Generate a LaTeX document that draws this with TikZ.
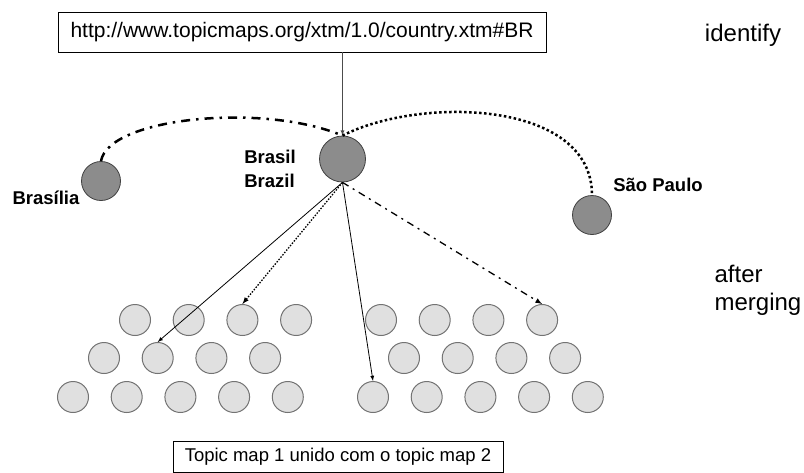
\documentclass[tikz,border=0pt]{standalone}
\usepackage{fontspec}
\setmainfont{Liberation Sans}
\begin{document}
\begin{tikzpicture}[x=1pt,y=-1pt,
    bigtopic/.style={circle,draw=black!75,fill=black!45,line width=0.8pt,minimum size=46pt,inner sep=0pt},
    topic/.style={circle,draw=black!75,fill=black!45,line width=0.8pt,minimum size=39pt,inner sep=0pt},
    small/.style={circle,draw=black!55,fill=black!12,line width=1pt,minimum size=31pt,inner sep=0pt},
    lbl/.style={font=\fontsize{18.5}{24}\selectfont\bfseries},
    dashdot/.style={dash pattern=on 9pt off 6pt on 2.5pt off 6pt},
    dots/.style={dash pattern=on 2.5pt off 2.5pt}]
\useasboundingbox (0,0) rectangle (804,472);
\node[draw,line width=0.8pt,minimum width=488pt,minimum height=40pt,font=\fontsize{21}{24}\selectfont] (url) at (302,32) {http://www.topicmaps.org/xtm/1.0/country.xtm\#BR};
\node[font=\fontsize{24}{28}\selectfont] (identify) at (743,35) {identify};
\node[font=\fontsize{24}{28}\selectfont,align=left] (merging) at (758,290) {after\\merging};

\node[bigtopic] (brasil) at (342.5,159) {};
\node[topic] (brasilia) at (101,181) {};
\node[topic] (saopaulo) at (592,215) {};
\node[lbl,align=left] (brasillbl) at (270,169) {Brasil\\Brazil};
\node[lbl] (brasilialbl) at (46,198) {Brasília};
\node[lbl] (saopaulolbl) at (658,185) {São Paulo};

% topic map 1 and topic map 2
\foreach \i in {1,...,4} {
  \node[small] (l1-\i) at ({135+53.7*(\i-1)},320) {};
  \node[small] (l2-\i) at ({104+53.7*(\i-1)},358) {};
  \node[small] (r1-\i) at ({381+53.7*(\i-1)},320) {};
  \node[small] (r2-\i) at ({404+53.7*(\i-1)},358) {};
}
\foreach \i in {1,...,5} {
  \node[small] (l3-\i) at ({73+53.7*(\i-1)},397) {};
  \node[small] (r3-\i) at ({373+53.7*(\i-1)},397) {};
}
\node[draw,line width=0.8pt,minimum width=330pt,minimum height=31pt,font=\fontsize{18.5}{22}\selectfont] (merged) at (338,457) {Topic map 1 unido com o topic map 2};

\draw[-latex,line width=0.8pt,black!70] (brasil |- url.south) -- (brasil.north);
\draw[line width=2.5pt,dashdot] (brasilia.north) .. controls (108,118) and (262,102) .. (brasil.north);
\draw[line width=2.5pt,dots] (brasil.north) .. controls (420,96) and (592,100) .. (saopaulo.north);

\draw[-latex,line width=0.8pt] (brasil.south) -- (l2-2.north);
\draw[-latex,line width=1.3pt,dash pattern=on 1.5pt off 1.5pt] (brasil.south) -- (l1-3.north);
\draw[-latex,line width=0.8pt] (brasil.south) -- (r3-1.north);
\draw[-latex,line width=1.3pt,dash pattern=on 7pt off 5pt on 2pt off 5pt] (brasil.south) -- (r1-4.north);
\end{tikzpicture}
\end{document}
